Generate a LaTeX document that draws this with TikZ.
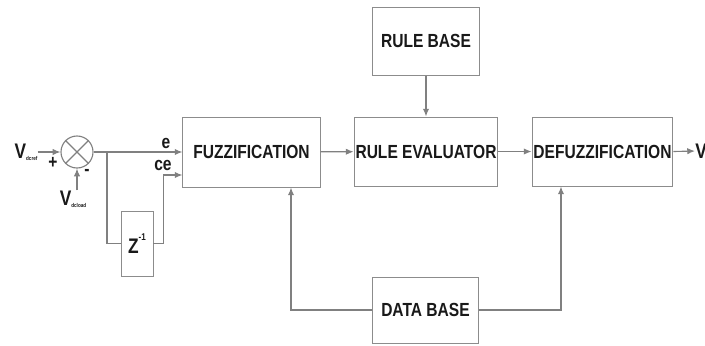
\documentclass[tikz,border=0pt]{standalone}
\usepackage{fontspec}
\setmainfont{Liberation Sans}[FakeStretch=0.82]
\usetikzlibrary{arrows.meta,positioning}
\begin{document}
\begin{tikzpicture}
    [x=0.025cm, y=-0.025cm,
     blk/.style={draw=black!45, line width=0.7pt, inner xsep=1pt, text=black!90, font=\bfseries\fontsize{13.5}{13.5}\selectfont},
     lbl/.style={text=black!90, font=\bfseries\fontsize{13.5}{13.5}\selectfont, inner sep=0pt},
     line/.style={draw=black!50, line width=0.8pt},
     arr/.style={line, -{Latex[length=5.5pt,width=4.5pt]}}]
    \useasboundingbox (0,0) rectangle (705,345);
    % blocks
    \node[blk, minimum width=3.425cm, minimum height=1.75cm] (fuzz) at (251.5,152) {FUZZIFICATION};
    \node[blk, minimum width=3.45cm, minimum height=1.725cm] (eval) at (426,151.5) {RULE EVALUATOR};
    \node[blk, minimum width=3.475cm, minimum height=1.725cm] (defuzz) at (602.5,151.5) {DEFUZZIFICATION};
    \node[blk, minimum width=2.65cm, minimum height=1.7cm] (rulebase) at (426,41) {RULE BASE};
    \node[blk, minimum width=2.625cm, minimum height=1.65cm] (database) at (425.5,310) {DATA BASE};
    \node[blk, minimum width=0.8cm, minimum height=1.625cm, font=\bfseries\fontsize{15}{15}\selectfont] (delay) at (137,243.5) {Z\raisebox{1.1ex}{\fontsize{7}{7}\selectfont -1}};
    % summing junction
    \node[draw=black!50, line width=0.8pt, circle, minimum size=0.8cm, inner sep=0pt] (sum) at (77,152) {};
    \draw[line] (sum.north west) -- (sum.south east) (sum.north east) -- (sum.south west);
    \node[lbl, font=\bfseries\fontsize{15}{15}\selectfont] (vref) at (26,152) {V\raisebox{-0.2ex}{\fontsize{4}{4}\selectfont dcref}};
    \node[lbl, font=\bfseries\fontsize{15}{15}\selectfont] (vload) at (73,199) {V\raisebox{-0.2ex}{\fontsize{4}{4}\selectfont dcload}};
    \node[lbl] (plus) at (53,163) {+};
    \node[lbl] (minus) at (87,172) {-};
    \node[lbl, font=\bfseries\fontsize{15}{15}\selectfont, anchor=west] (vout) at (695,151) {V};
    % error and change of error
    \coordinate (branch) at (107,152);
    \coordinate (cein) at ([yshift=-0.575cm]fuzz.west);
    \node[lbl] (elbl) at (166,143) {e};
    \node[lbl] (celbl) at (163,165) {ce};
    \draw[arr] (vref) -- (sum);
    \draw[arr] (sum |- vload.north) -- (sum.south);
    \draw[arr] (sum.east) -- (fuzz.west);
    \draw[line] (branch) |- (delay.west);
    \draw[arr] (delay.east) -- ++(10,0) |- (cein);
    % main chain
    \draw[arr] (fuzz) -- (eval);
    \draw[arr] (eval) -- (defuzz);
    \draw[arr] (rulebase) -- (eval);
    \draw[arr] (defuzz.east) -- (vout.west);
    \draw[arr] (database.west) -| ([xshift=0.9875cm]fuzz.south);
    \draw[arr] (database.east) -| ([xshift=-1.0375cm]defuzz.south);
\end{tikzpicture}
\end{document}
